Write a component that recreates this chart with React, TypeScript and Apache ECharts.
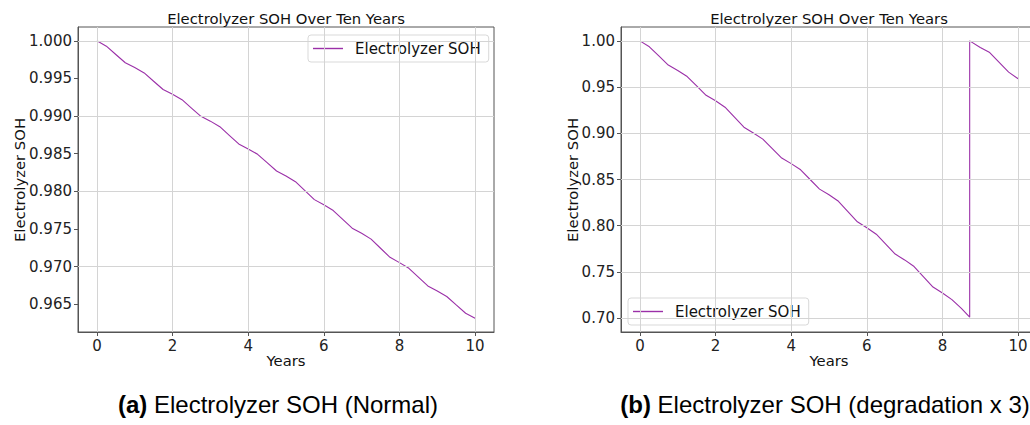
import React, { useEffect, useRef } from "react";
import * as echarts from "echarts";

// ---- data ----
const seriesName = "Electrolyzer SOH";
const chartTitle = "Electrolyzer SOH Over Ten Years";
const xAxisName = "Years";
const yAxisName = "Electrolyzer SOH";
const captionA = ["(a)", "Electrolyzer SOH (Normal)"];
const captionB = ["(b)", "Electrolyzer SOH (degradation x 3)"];

const xTicks = [0, 2, 4, 6, 8, 10];
const yTicksNormal = [0.965, 0.97, 0.975, 0.98, 0.985, 0.99, 0.995, 1.0];
const yTicksDegr = [0.7, 0.75, 0.8, 0.85, 0.9, 0.95, 1.0];

const yearsNormal = [
  0, 0.25, 0.5, 0.75, 1, 1.25, 1.5, 1.75, 2, 2.25, 2.5, 2.75, 3, 3.25, 3.5, 3.75,
  4, 4.25, 4.5, 4.75, 5, 5.25, 5.5, 5.75, 6, 6.25, 6.5, 6.75, 7, 7.25, 7.5, 7.75,
  8, 8.25, 8.5, 8.75, 9, 9.25, 9.5, 9.75, 10,
];
const sohNormal = [
  1.0, 0.99929, 0.99819, 0.99709,
  0.99645, 0.99574, 0.99463, 0.99353,
  0.99289, 0.99218, 0.99107, 0.98997,
  0.98933, 0.98859, 0.98745, 0.9863,
  0.98564, 0.98492, 0.98381, 0.9827,
  0.98205, 0.98128, 0.98009, 0.9789,
  0.97821, 0.97745, 0.97628, 0.97511,
  0.97443, 0.97365, 0.97244, 0.97123,
  0.97053, 0.96977, 0.9686, 0.96743,
  0.96675, 0.96603, 0.96491, 0.9638,
  0.96315,
];

const yearsDegr = [
  0, 0.25, 0.5, 0.75, 1, 1.25, 1.5, 1.75, 2, 2.25, 2.5, 2.75, 3, 3.25, 3.5, 3.75,
  4, 4.25, 4.5, 4.75, 5, 5.25, 5.5, 5.75, 6, 6.25, 6.5, 6.75, 7, 7.25, 7.5, 7.75,
  8, 8.25, 8.5, 8.72, 8.72, 9, 9.25, 9.5, 9.75, 10,
];
const sohDegr = [
  1.0, 0.9936, 0.9837, 0.9738,
  0.968, 0.9614, 0.9513, 0.9411,
  0.9352, 0.9282, 0.9174, 0.9066,
  0.9003, 0.8937, 0.8834, 0.8732,
  0.8672, 0.8605, 0.85, 0.8396,
  0.8335, 0.8264, 0.8153, 0.8042,
  0.7978, 0.7908, 0.7801, 0.7693,
  0.763, 0.7558, 0.7447, 0.7336,
  0.7272, 0.72, 0.7105,
  0.701, 1.0, 0.9928, 0.9874, 0.9768, 0.9662, 0.959,
];

const LINE_COLOR = "#9b30a8";
const GRID_COLOR = "#d4d4d4";
const SPINE_COLOR = "#555";
const FONT = "DejaVu Sans";

function pairs(xs: number[], ys: number[]) {
  return xs.map((x, i) => [x, ys[i]]);
}

function makeXAxis(gridIndex: number) {
  return {
    gridIndex,
    type: "value",
    min: -0.5,
    max: 10.5,
    axisLine: { show: true, onZero: false, lineStyle: { color: SPINE_COLOR, width: 1 } },
    axisTick: { show: true, length: 4, customValues: xTicks, lineStyle: { color: SPINE_COLOR } },
    axisLabel: {
      customValues: xTicks,
      margin: 6,
      fontSize: 15,
      fontFamily: FONT,
      color: "#222",
    },
    splitLine: { show: false },
  };
}

function makeYAxis(gridIndex: number, min: number, max: number, ticks: number[], digits: number) {
  return {
    gridIndex,
    type: "value",
    min,
    max,
    axisLine: { show: true, onZero: false, lineStyle: { color: SPINE_COLOR, width: 1 } },
    axisTick: { show: true, length: 4, customValues: ticks, lineStyle: { color: SPINE_COLOR } },
    axisLabel: {
      customValues: ticks,
      margin: 6,
      fontSize: 15,
      fontFamily: FONT,
      color: "#222",
      formatter: (v: number) => v.toFixed(digits),
    },
    splitLine: { show: false },
  };
}

function gridLinesSeries(idx: number, data: number[][], yTicks: number[]) {
  return {
    name: "grid" + idx,
    type: "line",
    xAxisIndex: idx,
    yAxisIndex: idx,
    data,
    symbol: "none",
    showSymbol: false,
    silent: true,
    z: 1,
    lineStyle: { opacity: 0 },
    markLine: {
      silent: true,
      symbol: ["none", "none"],
      label: { show: false },
      lineStyle: { color: GRID_COLOR, width: 1, type: "solid" },
      emphasis: { disabled: true },
      animation: false,
      data: [
        ...yTicks.map((v) => ({ yAxis: v })),
        ...xTicks.map((v) => ({ xAxis: v })),
      ],
    },
  };
}

function mainSeries(idx: number, data: number[][]) {
  return {
    name: seriesName,
    type: "line",
    xAxisIndex: idx,
    yAxisIndex: idx,
    data,
    symbol: "none",
    showSymbol: false,
    z: 3,
    itemStyle: { color: LINE_COLOR },
    lineStyle: { color: LINE_COLOR, width: 1.1 },
  };
}

function legendAt(left: number, top: number) {
  return {
    data: [{ name: seriesName, icon: "rect" }],
    left,
    top,
    orient: "horizontal",
    itemWidth: 30,
    itemHeight: 1.4,
    padding: [6, 8, 6, 5],
    borderColor: "#d9d9d9",
    borderWidth: 1,
    borderRadius: 3,
    backgroundColor: "rgba(255,255,255,0.85)",
    selectedMode: false,
    itemStyle: { color: LINE_COLOR, borderWidth: 0 },
    lineStyle: { opacity: 0 },
    textStyle: { fontFamily: FONT, fontSize: 15, color: "#111", padding: [0, 0, 0, 7] },
  };
}

export default function App() {
  const ref = useRef<HTMLDivElement>(null);

  useEffect(() => {
    if (!ref.current) return;
    const chart = echarts.init(ref.current, undefined, { renderer: "svg" });
    const dataA = pairs(yearsNormal, sohNormal);
    const dataB = pairs(yearsDegr, sohDegr);

    const titleStyle = { fontFamily: FONT, fontSize: 14.8, fill: "#111", align: "center", verticalAlign: "middle" };
    const captionRich = {
      b: { fontFamily: "Liberation Sans", fontSize: 24, fontWeight: "bold", fill: "#000" },
      n: { fontFamily: "Liberation Sans", fontSize: 24, fill: "#000" },
    };

    chart.setOption({
      animation: false,
      backgroundColor: "#fff",
      grid: [
        { left: 78, top: 27, width: 416, height: 305, show: true, borderColor: SPINE_COLOR, borderWidth: 1, containLabel: false },
        { left: 621, top: 27, width: 416, height: 305, show: true, borderColor: SPINE_COLOR, borderWidth: 1, containLabel: false },
      ],
      xAxis: [makeXAxis(0), makeXAxis(1)],
      yAxis: [
        makeYAxis(0, 0.96131, 1.00184, yTicksNormal, 3),
        makeYAxis(1, 0.685, 1.015, yTicksDegr, 2),
      ],
      legend: [legendAt(308, 35), legendAt(628, 298)],
      series: [
        gridLinesSeries(0, dataA, yTicksNormal),
        gridLinesSeries(1, dataB, yTicksDegr),
        mainSeries(0, dataA),
        mainSeries(1, dataB),
      ],
      graphic: [
        { type: "text", x: 286, y: 18, style: { ...titleStyle, text: chartTitle } },
        { type: "text", x: 829, y: 18, style: { ...titleStyle, text: chartTitle } },
        { type: "text", x: 286, y: 360, style: { ...titleStyle, text: xAxisName } },
        { type: "text", x: 829, y: 360, style: { ...titleStyle, text: xAxisName } },
        { type: "text", x: 19, y: 180, rotation: Math.PI / 2, style: { ...titleStyle, text: yAxisName } },
        { type: "text", x: 572, y: 180, rotation: Math.PI / 2, style: { ...titleStyle, text: yAxisName } },
        {
          type: "text",
          x: 278,
          y: 404,
          style: {
            text: `{b|${captionA[0]}}{n| ${captionA[1]}}`,
            align: "center",
            verticalAlign: "middle",
            fill: "#000",
            rich: captionRich,
          },
        },
        {
          type: "text",
          x: 825,
          y: 404,
          style: {
            text: `{b|${captionB[0]}}{n| ${captionB[1]}}`,
            align: "center",
            verticalAlign: "middle",
            fill: "#000",
            rich: captionRich,
          },
        },
      ],
    });
    return () => chart.dispose();
  }, []);

  return (
    <div style={{ position: "absolute", left: 0, top: 0, width: 1030, height: 425, overflow: "hidden", background: "#fff" }}>
      <div ref={ref} style={{ width: 1045, height: 425 }} />
    </div>
  );
}
